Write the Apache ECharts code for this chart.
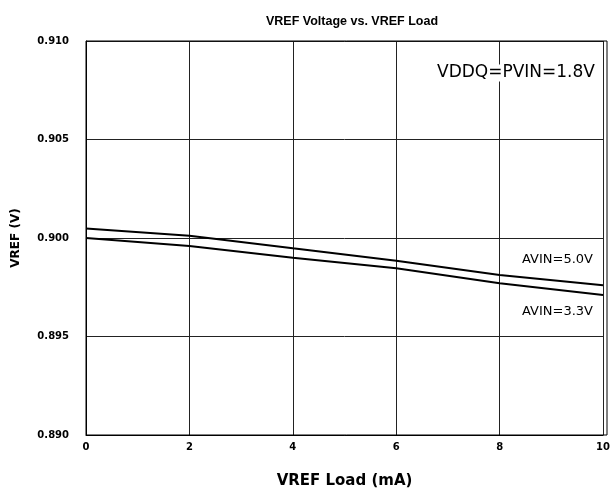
<!DOCTYPE html>
<html>
<head>
<meta charset="utf-8">
<script src="https://cdn.jsdelivr.net/npm/echarts@6/dist/echarts.min.js"></script>
<style>html,body{margin:0;padding:0;background:#fff}#c{width:613px;height:496px}</style>
</head>
<body>
<div id="c"></div>
<script>
var loadX = [0, 2, 4, 6, 8, 10];
var avin50 = [0.90048, 0.90012, 0.89948, 0.89885, 0.89812, 0.89760];
var avin33 = [0.90000, 0.89959, 0.89900, 0.89846, 0.89770, 0.89711];
var seriesNames = ['AVIN=5.0V', 'AVIN=3.3V'];
var titleText = 'VREF Voltage vs. VREF Load';
var noteText = 'VDDQ=PVIN=1.8V';

function pairs(xs, ys) { return xs.map(function (x, i) { return [x, ys[i]]; }); }

var chart = echarts.init(document.getElementById('c'), null, { renderer: 'canvas' });
chart.setOption({
  animation: false,
  backgroundColor: '#fff',
  title: {
    text: titleText, left: 347, top: 10, textAlign: 'center',
    textStyle: { fontFamily: 'Liberation Sans', fontWeight: 'bold', fontSize: 12.5, color: '#000' }
  },
  grid: { left: 86, right: 6, top: 41, bottom: 61 },
  xAxis: {
    type: 'value', min: 0, max: 10, interval: 2,
    name: 'VREF Load (mA)', nameLocation: 'middle', nameGap: 39,
    nameTextStyle: { fontFamily: 'DejaVu Sans', fontWeight: 'bold', fontSize: 15, color: '#000' },
    axisLine: { show: true, lineStyle: { color: '#000', width: 1 } },
    axisTick: { show: false },
    axisLabel: { fontFamily: 'DejaVu Sans', fontWeight: 'bold', fontSize: 10, color: '#000', margin: 7 },
    splitLine: { show: true, lineStyle: { color: '#222', width: 1 } }
  },
  yAxis: {
    type: 'value', min: 0.890, max: 0.910, interval: 0.005,
    name: 'VREF (V)', nameLocation: 'middle', nameGap: 64, nameRotate: 90,
    nameTextStyle: { fontFamily: 'DejaVu Sans', fontWeight: 'bold', fontSize: 12, color: '#000' },
    axisLine: { show: true, lineStyle: { color: '#000', width: 1 } },
    axisTick: { show: false },
    axisLabel: { fontFamily: 'DejaVu Sans', fontWeight: 'bold', fontSize: 10, color: '#000', margin: 17,
      formatter: function (v) { return v.toFixed(3); } },
    splitLine: { show: true, lineStyle: { color: '#222', width: 1 } }
  },
  graphic: [
    { type: 'rect', shape: { x: 86, y: 41, width: 521, height: 394 }, style: { fill: 'none', stroke: '#000', lineWidth: 1 }, silent: true, z: 10 },
    { type: 'text', x: 437, y: 73, z: 20, style: { text: noteText, fontFamily: 'DejaVu Sans', fontSize: 17, fill: '#000', backgroundColor: '#fff', verticalAlign: 'middle' } },
    { type: 'text', x: 522, y: 260, z: 20, style: { text: seriesNames[0], fontFamily: 'DejaVu Sans', fontSize: 13, fill: '#000', verticalAlign: 'middle' } },
    { type: 'text', x: 522, y: 312, z: 20, style: { text: seriesNames[1], fontFamily: 'DejaVu Sans', fontSize: 13, fill: '#000', verticalAlign: 'middle' } }
  ],
  series: [
    { name: seriesNames[0], type: 'line', data: pairs(loadX, avin50), showSymbol: false, smooth: false,
      lineStyle: { color: '#000', width: 2 }, z: 5 },
    { name: seriesNames[1], type: 'line', data: pairs(loadX, avin33), showSymbol: false, smooth: false,
      lineStyle: { color: '#000', width: 2 }, z: 5 }
  ]
});
</script>
</body>
</html>
